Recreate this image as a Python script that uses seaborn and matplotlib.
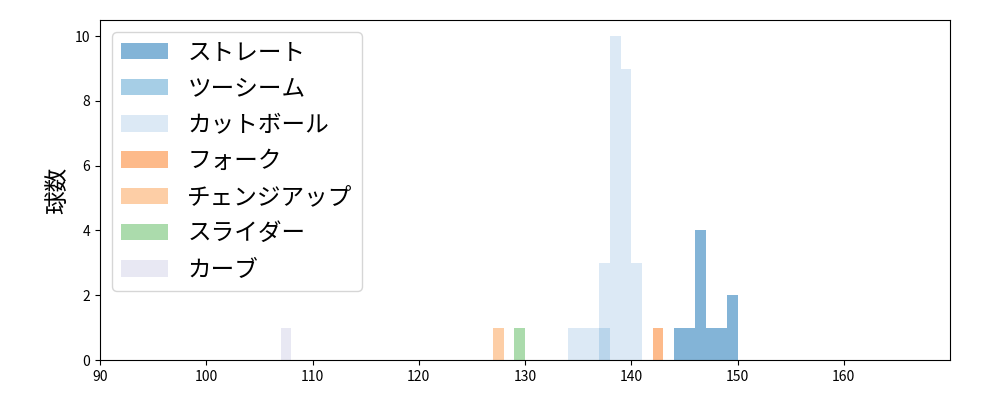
import seaborn as sns
import matplotlib.pyplot as plt

plt.rcParams['font.family'] = ['Noto Sans CJK JP', 'DejaVu Sans']

# pitch speeds (km/h) per pitch type
pitch_names = ["ストレート", "ツーシーム", "カットボール", "フォーク", "チェンジアップ", "スライダー", "カーブ"]
straight = [144, 145, 146, 146, 146, 146, 147, 148, 149, 149]
two_seam = [137]
cutball = [134, 135, 136, 137, 137, 137,
           138, 138, 138, 138, 138, 138, 138, 138, 138, 138,
           139, 139, 139, 139, 139, 139, 139, 139, 139,
           140, 140, 140]
fork = [142]
changeup = [127]
slider = [129]
curve = [107]

pal = sns.color_palette("tab20c", 20)
colors = [pal[0], pal[1], pal[3], pal[5], pal[6], pal[9], pal[15]]
series = [straight, two_seam, cutball, fork, changeup, slider, curve]

fig, ax = plt.subplots(figsize=(10, 4), dpi=100)
for name, vals, c in zip(pitch_names, series, colors):
    sns.histplot(x=vals, binwidth=1, binrange=(min(vals), max(vals) + 1),
                 color=c, alpha=0.6, linewidth=0, label=name, ax=ax)

ax.set_xlim(90, 170)
ax.set_xticks(range(90, 170, 10))
ax.set_ylabel("球数", fontsize=17)
ax.legend(loc="upper left", fontsize=17, labelspacing=0.56)
plt.subplots_adjust(left=0.1, right=0.95, top=0.95, bottom=0.1)
plt.savefig("out.png")
